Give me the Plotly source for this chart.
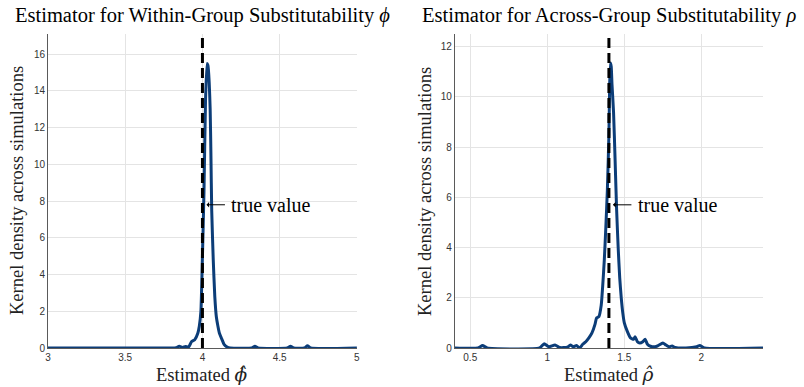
import plotly.graph_objects as go

# ---- data: kernel density of within-group estimator (phi) ----
phi_x = [3.0, 3.80, 3.83, 3.85, 3.87, 3.89, 3.91, 3.93, 3.95, 3.97, 3.98, 3.99,
         4.00, 4.01, 4.02, 4.03, 4.035, 4.04, 4.05, 4.055, 4.06, 4.07, 4.08,
         4.09, 4.10, 4.11, 4.125, 4.14, 4.16, 4.18, 4.32, 4.34, 4.36, 4.55,
         4.57, 4.59, 4.66, 4.68, 4.70, 5.0]
phi_y = [0, 0, 0.02, 0.1, 0.03, 0.08, 0.05, 0.35, 0.45, 0.8, 1.2, 2.0,
         5.0, 8.5, 13.5, 15.5, 15.4, 15.0, 13.0, 10.5, 7.5, 4.8, 2.8,
         1.7, 1.2, 0.8, 0.5, 0.2, 0.05, 0, 0, 0.1, 0, 0,
         0.1, 0, 0, 0.12, 0, 0]

# ---- data: kernel density of across-group estimator (rho) ----
rho_x = [0.4, 0.55, 0.58, 0.61, 0.95, 0.98, 1.01, 1.05, 1.08, 1.13, 1.15, 1.17,
         1.19, 1.21, 1.23, 1.25, 1.27, 1.29, 1.31, 1.32, 1.335, 1.35, 1.36,
         1.37, 1.38, 1.39, 1.40, 1.405, 1.41, 1.415, 1.42, 1.43, 1.44, 1.45,
         1.46, 1.47, 1.48, 1.49, 1.50, 1.52, 1.54, 1.56, 1.57, 1.585, 1.60,
         1.62, 1.635, 1.65, 1.67, 1.70, 1.72, 1.75, 1.77, 1.79, 1.81, 1.83,
         1.90, 1.97, 1.99, 2.02, 2.4]
rho_y = [0, 0, 0.1, 0, 0, 0.17, 0.05, 0.12, 0.02, 0.03, 0.12, 0.05,
         0.1, 0.0, 0.15, 0.25, 0.4, 0.6, 0.95, 1.2, 1.25, 1.7, 2.5,
         3.5, 4.8, 6.3, 8.5, 10.5, 11.35, 11.2, 10.5, 9.4, 7.5, 5.5,
         4.0, 2.8, 2.0, 1.4, 1.0, 0.65, 0.4, 0.35, 0.45, 0.25, 0.2,
         0.25, 0.35, 0.15, 0.07, 0.05, 0.1, 0.2, 0.12, 0.05, 0.08, 0.02,
         0, 0.05, 0.1, 0, 0]

phi_true = 4.0
rho_true = 1.4

phi_xticks = [3, 3.5, 4, 4.5, 5]
phi_yticks = [0, 2, 4, 6, 8, 10, 12, 14, 16]
rho_xticks = [0.5, 1, 1.5, 2]
rho_yticks = [0, 2, 4, 6, 8, 10, 12]

titles = ["Estimator for Within-Group Substitutability <i>ϕ</i>",
          "Estimator for Across-Group Substitutability <i>ρ</i>"]
xlabels = ['Estimated <span style="font-family:DejaVu Serif"><i>ϕ̂</i></span>',
           'Estimated <span style="font-family:DejaVu Serif"><i>ρ̂</i></span>']
ylabel = "Kernel density across simulations"
ann_text = "true value"

LINE = "#0c3d78"
SERIF = "Liberation Serif"
SANS = "Liberation Sans"
GRID = "#e4e4e4"

fig = go.Figure()
fig.add_trace(go.Scatter(x=phi_x, y=phi_y, mode="lines", xaxis="x", yaxis="y",
                         line=dict(color=LINE, width=3, shape="spline", smoothing=0.5),
                         showlegend=False))
fig.add_trace(go.Scatter(x=rho_x, y=rho_y, mode="lines", xaxis="x2", yaxis="y2",
                         line=dict(color=LINE, width=3, shape="spline", smoothing=0.5),
                         showlegend=False))

dom1 = [0, 0.432]
dom2 = [0.569, 1]

axis_common = dict(showgrid=True, gridcolor=GRID, gridwidth=1, zeroline=False,
                   showline=True, linecolor="#5a5a5a", linewidth=1,
                   tickfont=dict(family=SANS, size=10, color="#333333"),
                   ticks="", fixedrange=True)

fig.update_layout(
    width=804, height=387,
    margin=dict(l=48, r=41, t=34, b=39),
    plot_bgcolor="white", paper_bgcolor="white",
    xaxis=dict(domain=dom1, range=[3, 5], tickvals=phi_xticks,
               ticktext=[f"{v:g}" for v in phi_xticks], anchor="y", **axis_common),
    yaxis=dict(domain=[0, 1], range=[0, 17.1], tickvals=phi_yticks, anchor="x", **axis_common),
    xaxis2=dict(domain=dom2, range=[0.4, 2.4], tickvals=rho_xticks,
                ticktext=[f"{v:g}" for v in rho_xticks], anchor="y2", **axis_common),
    yaxis2=dict(domain=[0, 1], range=[0, 12.5], tickvals=rho_yticks, anchor="x2", **axis_common),
)

# true-value dashed lines
for xr, yr, xv in [("x", "y domain", phi_true), ("x2", "y2 domain", rho_true)]:
    fig.add_shape(type="line", xref=xr, yref=yr, x0=xv, x1=xv, y0=0, y1=1,
                  line=dict(color="black", width=3, dash="10px,5px"), layer="above")

# annotations: true value (arrow + text)
for xr, yr, xv, yv in [("x", "y", phi_true, 7.8), ("x2", "y2", rho_true, 5.7)]:
    fig.add_annotation(x=xv, y=yv, xref=xr, yref=yr, text="", showarrow=True,
                       ax=20, ay=0, axref="pixel", ayref="pixel", xshift=4,
                       arrowhead=1, arrowsize=0.9, arrowwidth=1, arrowcolor="black",
                       standoff=0)
    fig.add_annotation(x=xv, y=yv, xref=xr, yref=yr, text=ann_text, showarrow=False,
                       xanchor="left", yanchor="middle", xshift=27,
                       font=dict(family=SERIF, size=20, color="black"))

# titles
for dom, t in zip([dom1, dom2], titles):
    fig.add_annotation(x=(dom[0] + dom[1]) / 2, y=1, xref="paper", yref="paper", text=t,
                       showarrow=False, xanchor="center", yanchor="bottom", yshift=5,
                       font=dict(family=SERIF, size=20.5, color="black"))

# x labels
for dom, t in zip([dom1, dom2], xlabels):
    fig.add_annotation(x=(dom[0] + dom[1]) / 2, y=0, xref="paper", yref="paper", text=t,
                       showarrow=False, xanchor="center", yanchor="middle", yshift=-26,
                       font=dict(family=SERIF, size=18.5, color="#222222"))

# y labels
for px in [17, 425]:
    fig.add_annotation(x=(px - 48) / 715, y=0.5, xref="paper", yref="paper", text=ylabel,
                       showarrow=False, xanchor="center", yanchor="middle", textangle=-90,
                       font=dict(family=SERIF, size=18.5, color="#222222"))

fig.write_html("out.html")
